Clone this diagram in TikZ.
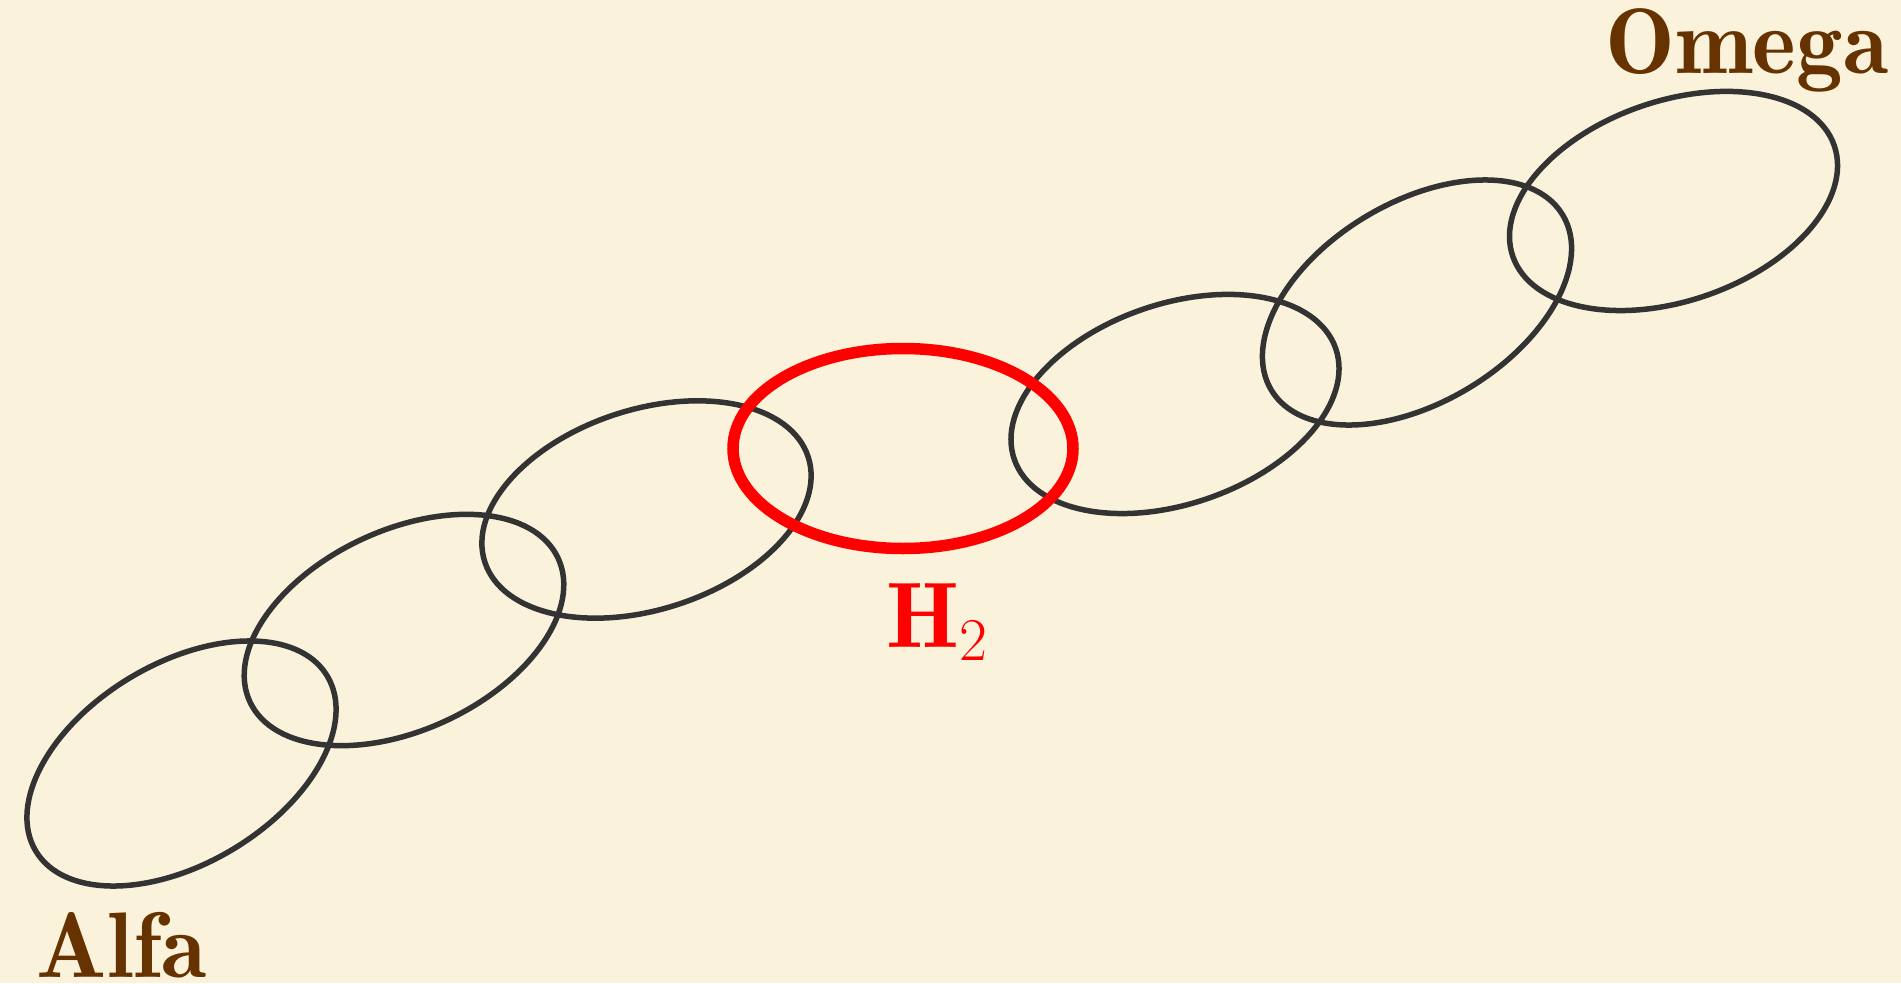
\documentclass[tikz,border=0pt]{standalone}
\usepackage{fontspec}
\newfontfamily\demifont{lmromandemi10-regular}[Extension=.otf]
\definecolor{parch}{RGB}{251,242,220}
\definecolor{linkgray}{RGB}{51,51,51}
\definecolor{labelbrown}{RGB}{102,51,0}
\tikzset{
  link/.style={draw=linkgray, line width=0.055cm},
  redlink/.style={draw=red, line width=0.115cm},
  biglabel/.style={inner sep=0pt, font=\fontsize{26.5pt}{30pt}\demifont},
}
\begin{document}
\begin{tikzpicture}
\path[fill=parch] (0,0) rectangle (19.01,9.83);
\useasboundingbox (0,0) rectangle (19.01,9.83);
\coordinate (c1) at (1.815,2.195);
\coordinate (c2) at (4.04,3.53);
\coordinate (c3) at (6.465,4.735);
\coordinate (c4) at (9.03,5.345);
\coordinate (c5) at (11.75,5.79);
\coordinate (c6) at (14.17,6.805);
\coordinate (c7) at (16.735,7.82);
\draw[link, rotate around={31:(c1)}] (c1) ellipse [x radius=1.7, y radius=1.0];
\draw[link, rotate around={25:(c2)}] (c2) ellipse [x radius=1.7, y radius=1.0];
\draw[link, rotate around={18:(c3)}] (c3) ellipse [x radius=1.7, y radius=1.0];
\draw[link, rotate around={19:(c5)}] (c5) ellipse [x radius=1.7, y radius=1.0];
\draw[link, rotate around={31:(c6)}] (c6) ellipse [x radius=1.7, y radius=1.0];
\draw[link, rotate around={19:(c7)}] (c7) ellipse [x radius=1.7, y radius=1.0];
\draw[redlink] (c4) ellipse [x radius=1.7, y radius=1.0];
\node[biglabel, text=labelbrown, anchor=base west] (alfa) at (0.36,0.06) {Alfa};
\node[biglabel, text=labelbrown, anchor=base east] (omega) at (18.89,9.10) {Omega};
\node[biglabel, text=red, anchor=base west] (h2) at (8.86,3.36) {H$_2$};
\end{tikzpicture}
\end{document}
